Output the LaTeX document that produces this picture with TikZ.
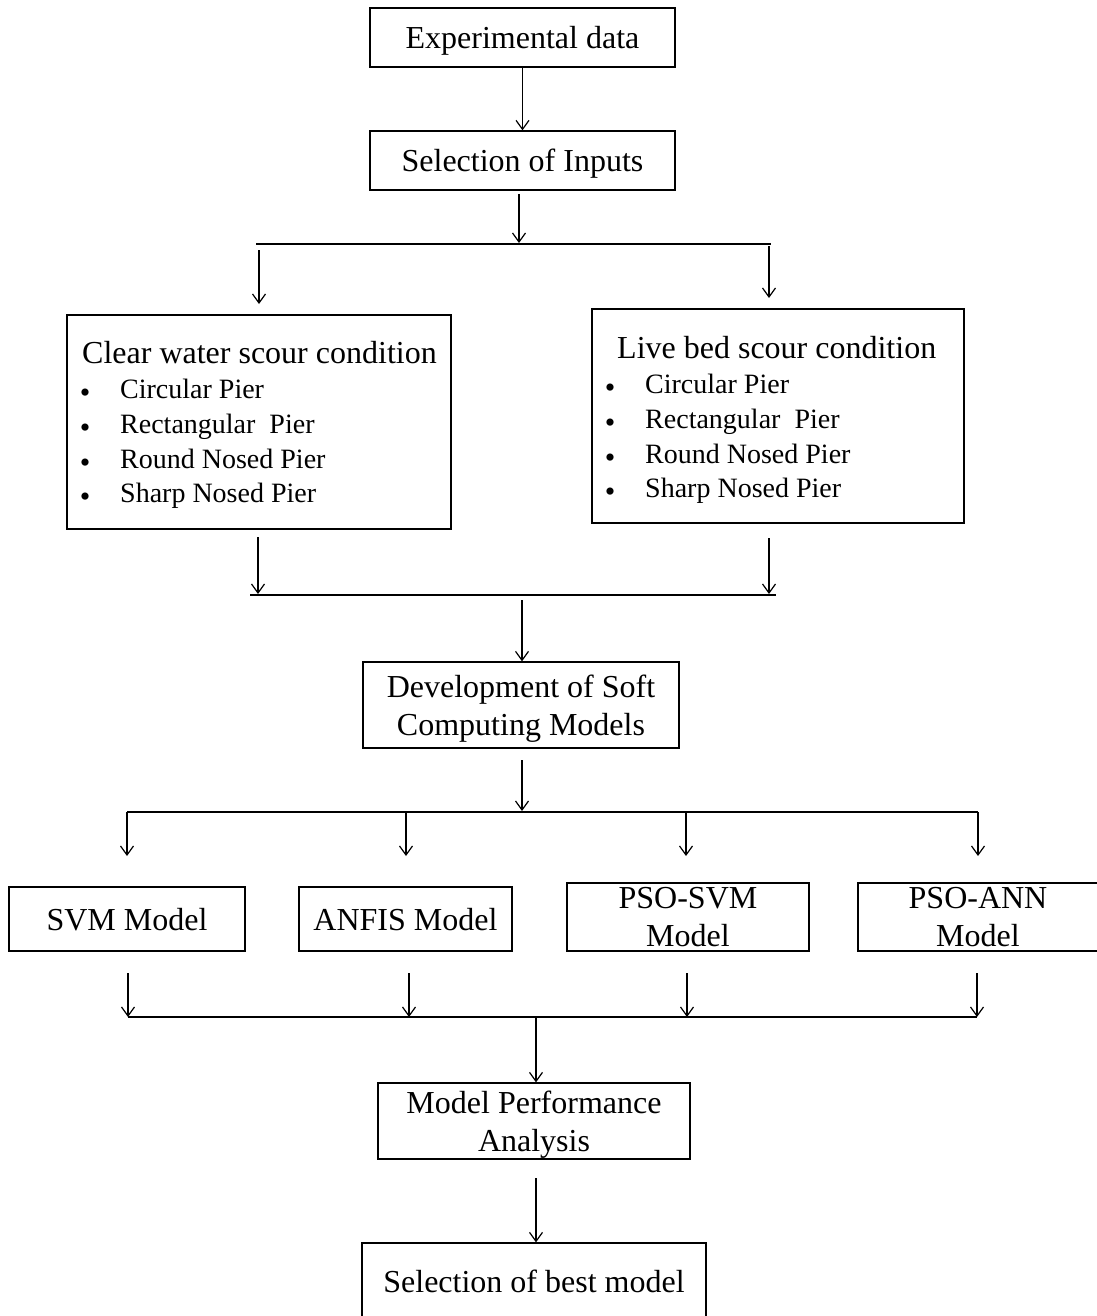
\documentclass[tikz,border=0pt]{standalone}
\usepackage{fontspec}
\setmainfont{Liberation Serif}
\usetikzlibrary{arrows.meta}
\begin{document}
\begin{tikzpicture}[x=1pt,y=-1pt,
 box/.style={draw,line width=1.3pt,inner sep=0pt,align=center,text depth=0pt,font=\fontsize{32}{38.5}\selectfont},
 txt/.style={inner sep=0pt,text height=0.68em,text depth=0pt,font=\fontsize{32}{38}\selectfont,anchor=west},
 itm/.style={inner sep=0pt,text height=0.68em,text depth=0pt,font=\fontsize{28}{34}\selectfont,anchor=west},
 bul/.style={inner sep=0pt,font=\fontsize{30}{34}\selectfont},
 arr/.style={line width=1.2pt,-{Straight Barb[length=9pt,width=13pt,line width=1.2pt]}},
 ln/.style={line width=1.3pt}]
\useasboundingbox (0,0) rectangle (1096,1316);

% boxes
\node[box,minimum width=305pt,minimum height=59pt] (exp) at (522.5,37.5) {Experimental data};
\node[box,minimum width=305pt,minimum height=59pt] (sel) at (522.5,160.5) {Selection of Inputs};
\node[box,minimum width=384pt,minimum height=214pt] (cw) at (259,422) {};
\node[box,minimum width=372pt,minimum height=214pt] (lb) at (778,416) {};
\node[box,minimum width=316pt,minimum height=86pt] (dev) at (521,705) {Development of Soft\\Computing Models};
\node[box,minimum width=236pt,minimum height=64pt] (svm) at (127,919) {SVM Model};
\node[box,minimum width=213pt,minimum height=64pt] (anfis) at (405.5,919) {ANFIS Model};
\node[box,minimum width=242pt,minimum height=68pt] (psosvm) at (688,917) {PSO-SVM\\Model};
\node[box,minimum width=240pt,minimum height=68pt] (psoann) at (978,917) {PSO-ANN\\Model};
\node[box,minimum width=312pt,minimum height=76pt] (mpa) at (534,1121) {Model Performance\\Analysis};
\node[box,minimum width=344pt,minimum height=77pt] (best) at (534,1281.5) {Selection of best model};

% list texts
\node[txt] (cwh) at (82,360) {Clear water scour condition};
\foreach \t/\y [count=\i] in {Circular Pier/395,Rectangular\ \ Pier/430,Round Nosed Pier/465,Sharp Nosed Pier/499}{
  \node[bul] (cwb\i) at (85,\y+1) {•};
  \node[itm] (cwi\i) at (120,\y) {\t};
}
\node[txt] (lbh) at (617,355) {Live bed scour condition};
\foreach \t/\y [count=\i] in {Circular Pier/390,Rectangular\ \ Pier/425,Round Nosed Pier/460,Sharp Nosed Pier/494}{
  \node[bul] (lbb\i) at (610,\y+1) {•};
  \node[itm] (lbi\i) at (645,\y) {\t};
}

% coordinates
\coordinate (a1s) at (519,194);
\coordinate (a1e) at (519,243);
\coordinate (h1l) at (256,244);
\coordinate (h1r) at (771,244);
\coordinate (l1s) at (259,250);
\coordinate (l1e) at (259,304);
\coordinate (r1s) at (769,246);
\coordinate (r1e) at (769,298);
\coordinate (l2s) at (258,537);
\coordinate (l2e) at (258,594);
\coordinate (r2s) at (769,538);
\coordinate (r2e) at (769,594);
\coordinate (h2l) at (250,595);
\coordinate (h2r) at (776,595);
\coordinate (d1s) at (522,600);
\coordinate (d2s) at (522,760);
\coordinate (d2e) at (522,811);
\coordinate (h3l) at (127,812);
\coordinate (h3r) at (978,812);
\coordinate (h4l) at (128,1017);
\coordinate (h4r) at (977,1017);
\coordinate (h4m) at (536,1017);
\coordinate (b1s) at (536,1178);

% connectors
\draw[arr] (exp) -- (sel);
\draw[arr] (a1s) -- (a1e);
\draw[ln] (h1l) -- (h1r);
\draw[arr] (l1s) -- (l1e);
\draw[arr] (r1s) -- (r1e);
\draw[arr] (l2s) -- (l2e);
\draw[arr] (r2s) -- (r2e);
\draw[ln] (h2l) -- (h2r);
\draw[arr] (d1s) -- (d1s |- dev.north);
\draw[arr] (d2s) -- (d2e);
\draw[ln] (h3l) -- (h3r);
\foreach \x/\n in {127/a,406/b,686/c,978/d}{
  \coordinate (t\n s) at (\x,812);
  \coordinate (t\n e) at (\x,856);
  \draw[arr] (t\n s) -- (t\n e);
}
\foreach \x/\n in {128/a,409/b,687/c,977/d}{
  \coordinate (u\n s) at (\x,973);
  \coordinate (u\n e) at (\x,1017);
  \draw[arr] (u\n s) -- (u\n e);
}
\draw[ln] (h4l) -- (h4r);
\draw[arr] (h4m) -- (mpa.north -| h4m);
\draw[arr] (b1s) -- (best.north -| b1s);
\end{tikzpicture}
\end{document}
